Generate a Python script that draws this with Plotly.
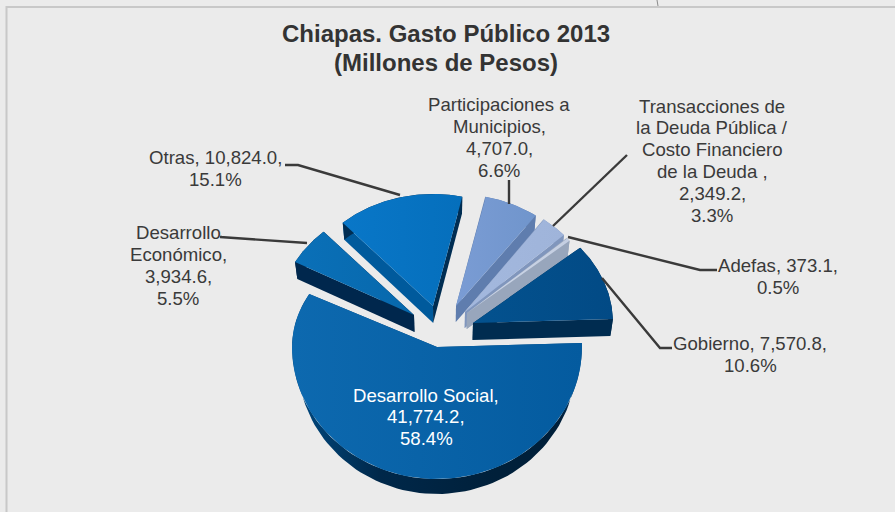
import numpy as np
import plotly.graph_objects as go

# ---- data (clockwise from the right-hand edge of the large slice)
categories = ["Desarrollo Social", "Desarrollo<br>Económico", "Otras",
              "Participaciones a<br>Municipios", "Transacciones de<br>la Deuda Pública /<br>Costo Financiero<br>de la Deuda ",
              "Adefas", "Gobierno"]
values = [41774.2, 3934.6, 10824.0, 4707.0, 2349.2, 373.1, 7570.8]
percents = ["58.4%", "5.5%", "15.1%", "6.6%", "3.3%", "0.5%", "10.6%"]

# ---- styling and projection of each slice (apex x, y, Rx, Ry far side, Ry near side)
START = 88.0
depths = [15, 17, 17, 16, 16, 16, 17]
vanish = [(437, 0.96), (445, 0.985), (445, 0.985), (445, 0.985), (445, 0.985), (445, 0.985), (445, 0.985)]
BG = "#ebebeb"
geom = [(437, 347, 145, 112, 132), (414, 315, 135, 112, 112), (433, 306, 135, 112, 112),
        (456, 306, 135, 112, 112), (465, 312, 133, 115, 115), (467, 313, 134, 112, 112),
        (473, 323, 140, 117, 117)]
face = [("#0d69af", "#045b9f"), ("#0a70b8", "#0768ac"), ("#0977c8", "#056fbc"),
        ("#7a9cd4", "#7095cc"), ("#a3b8de", "#9fb4da"), ("#cbd5e7", "#c5cfe2"), ("#03528f", "#024a85")]
wall = [[(0, "#004a82"), (.3, "#00284a"), (.7, "#00203a"), (.93, "#001f3a"), (1, "#0a4f88")],
        [(0, "#00274d"), (1, "#00274d")], [(0, "#002d52"), (1, "#002d52")],
        [(0, "#5f7dae"), (1, "#5f7dae")], [(0, "#8096bd"), (1, "#8096bd")],
        [(0, "#98a6bc"), (1, "#98a6bc")], [(0, "#002c50"), (1, "#002c50")]]
side_right = ["#00447a", "#00274d", "#005a9c", "#5f7dae", "#8096bd", "#98a6bc", "#002c50"]
draw_order = [2, 3, 4, 5, 1, 6, 0]

label_pos = [(426, 395, "#ffffff"), (178, 232.5, "#3a3a3a"), (215, 157.5, "#3a3a3a"), (499, 104.5, "#3a3a3a"),
             (712, 106, "#3a3a3a"), (778, 265.5, "#3a3a3a"), (750, 343.5, "#3a3a3a")]
LINE_STEP = 21.9
leaders = ["M285,165 L298,165 L400,195", "M509,180 L509,204", "M627,155 L553,226",
           "M717,270 L700,270 L568,237", "M672,348 L660,348 L602,278", "M222,237 L220,237 L307,243"]


def project(i, theta):
    x0, y0, rx, ry_far, ry_near = geom[i]
    t = np.radians(theta)
    c = np.cos(t)
    ry = np.where(c > 0, ry_far, ry_near)
    return x0 + rx * np.sin(t), y0 - ry * c


def drop(i, x, y):
    vx, k = vanish[i]
    return vx + (np.asarray(x) - vx) * k, np.asarray(y) + depths[i]


def poly(xs, ys, stops, name):
    return go.Scatter(x=list(xs), y=list(ys), mode="lines", line=dict(width=0), fill="toself",
                      fillgradient=dict(type="horizontal", colorscale=[list(s) for s in stops]),
                      hoverinfo="skip", name=name, showlegend=False)


total = sum(values)
spans = [v / total * 360 for v in values]
starts = START + np.concatenate([[0], np.cumsum(spans)[:-1]])

fig = go.Figure()
for i in draw_order:
    th = np.linspace(starts[i], starts[i] + spans[i], 90)
    ax, ay = project(i, th)
    x0, y0 = geom[i][:2]
    dx, dy = drop(i, ax, ay)
    d0x, d0y = drop(i, x0, y0)
    flat = lambda c: [(0, c), (1, c)]
    # radial walls
    fig.add_trace(poly([x0, ax[0], dx[0], d0x], [y0, ay[0], dy[0], d0y], flat(side_right[i]), categories[i]))
    fig.add_trace(poly([x0, ax[-1], dx[-1], d0x], [y0, ay[-1], dy[-1], d0y], flat(wall[i][0][1] if i else side_right[i]), categories[i]))
    # rim
    fig.add_trace(poly(np.r_[ax, dx[::-1]], np.r_[ay, dy[::-1]], wall[i], categories[i]))
    # top face
    fig.add_trace(poly(np.r_[x0, ax], np.r_[y0, ay], [(0, face[i][0]), (1, face[i][1])], categories[i]))

FONT = "Liberation Sans, Arial, sans-serif"
annotations = []
for y, line in zip([33, 62], ["Chiapas. Gasto Público 2013", "(Millones de Pesos)"]):
    annotations.append(dict(x=446, y=y, xref="x", yref="y", showarrow=False, align="center",
                            text=f"<b>{line}</b>", font=dict(family=FONT, size=24, color="#333333")))
for i, cat in enumerate(categories):
    px, py, col = label_pos[i]
    if i in (2, 5, 6):
        text = f"{cat}, {values[i]:,.1f},<br>{percents[i]}"
    else:
        text = f"{cat},<br>{values[i]:,.1f},<br>{percents[i]}"
    for k, line in enumerate(text.split("<br>")):
        annotations.append(dict(x=px, y=py + k * LINE_STEP, xref="x", yref="y", showarrow=False, align="center",
                                text=line, font=dict(family=FONT, size=18.6, color=col)))

shapes = [dict(type="rect", xref="x", yref="y", x0=6.5, y0=7, x1=905, y1=525,
               line=dict(color="#c8c8c8", width=2), layer="below"),
          dict(type="path", xref="x", yref="y", path="M657,0 L658,6", line=dict(color="#8a8a8a", width=1))]
for p in leaders:
    shapes.append(dict(type="path", xref="x", yref="y", path=p, line=dict(color="#3a3a3a", width=2.4)))

fig.update_layout(width=895, height=512, margin=dict(l=0, r=0, t=0, b=0), paper_bgcolor=BG, plot_bgcolor=BG,
                  showlegend=False, annotations=annotations, shapes=shapes,
                  xaxis=dict(range=[0, 895], visible=False, fixedrange=True),
                  yaxis=dict(range=[512, 0], visible=False, fixedrange=True))
fig.write_html("out.html", config={"displayModeBar": False},
               post_script="document.body.style.margin='0';document.body.style.overflow='hidden';document.body.style.background='#ebebeb';")
